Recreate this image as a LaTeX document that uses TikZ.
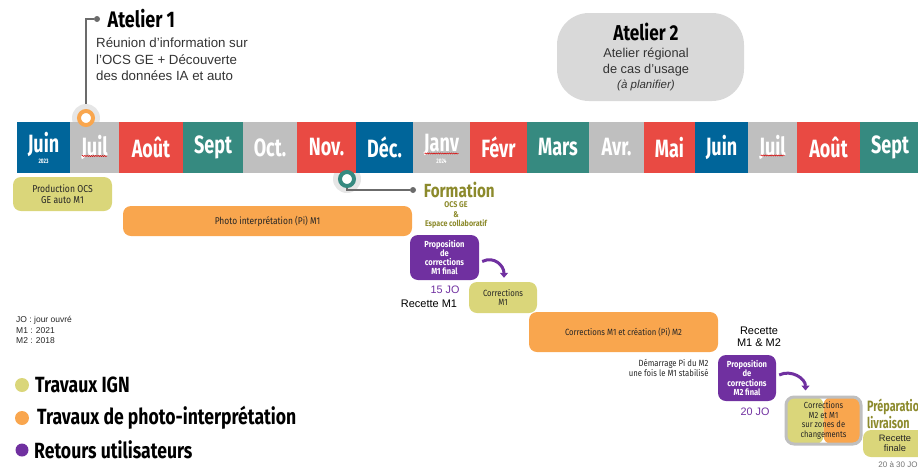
\documentclass[tikz,border=0pt]{standalone}
\usepackage{fontspec}
\setmainfont{Liberation Sans}
\newfontfamily\condfont[FakeStretch=0.72]{Fira Sans}
\newfontfamily\titlefont[FakeStretch=0.8]{Fira Sans}
\newfontfamily\narrowfont[FakeStretch=0.86]{Fira Sans}
\usetikzlibrary{positioning,arrows.meta,decorations.pathmorphing}
\definecolor{mblue}{HTML}{00659A}
\definecolor{mgray}{HTML}{BFBFBF}
\definecolor{mred}{HTML}{E94A43}
\definecolor{mteal}{HTML}{368A80}
\definecolor{ign}{HTML}{DAD67A}
\definecolor{pi}{HTML}{F9A64E}
\definecolor{retour}{HTML}{7030A0}
\definecolor{olive}{HTML}{8C8A2C}
\definecolor{halogray}{HTML}{E6E6E6}
\definecolor{guidegray}{HTML}{6B6B6B}
\definecolor{boxgray}{HTML}{D9D9D9}
\newcommand{\fsz}[2]{\fontsize{#1}{#2}\selectfont}
\newcommand{\upm}[1]{\raisebox{3pt}[\height][\depth]{#1}}
\begin{document}
\begin{tikzpicture}[x=1pt,y=-1pt,
  month/.style={rectangle, inner sep=0pt, minimum height=51pt, text=white, font=\condfont\bfseries\fsz{25}{25}},
  yeartag/.style={inner sep=0pt, text=white, font=\condfont\bfseries\fsz{6.5}{6.5}},
  spell/.style={draw=red!85!black, line width=0.5pt, decorate, decoration={snake, amplitude=0.6pt, segment length=2.2pt}},
  halo/.style={circle, fill=halogray, minimum size=28pt, inner sep=0pt},
  ring/.style={circle, draw=#1, fill=white, line width=4pt, minimum size=14pt, inner sep=0pt},
  guide/.style={draw=guidegray, line width=1.2pt},
  gdot/.style={circle, fill=guidegray, minimum size=6pt, inner sep=0pt},
  task/.style={rectangle, rounded corners=8pt, inner sep=0pt, align=center, text=black!85, font=\narrowfont\fsz{9}{9.5}},
  retourbox/.style={task, fill=retour, text=white, font=\narrowfont\bfseries\fsz{8.8}{9.3}},
  curvarrow/.style={draw=retour, line width=3pt, -{Triangle[length=5pt,width=8pt]}},
  legend/.style={anchor=west, inner sep=0pt, font=\titlefont\bfseries\fsz{22}{22}},
  ldot/.style={circle, inner sep=0pt, minimum size=14pt}
]
\useasboundingbox (0,0) rectangle (918,469);

% Drawing halos behind the band
\node[halo] (h1) at (86,118) {};
\node[halo] (h2) at (347,179) {};

% Drawing the months
\node[month, fill=mblue, minimum width=53pt] (m1) at (43.5,147.5) {\upm{Juin}};
\node[month, fill=mgray, minimum width=49pt] (m2) at (94.5,147.5) {Juil};
\node[month, fill=mred, minimum width=64pt] (m3) at (151,147.5) {Août};
\node[month, fill=mteal, minimum width=60pt] (m4) at (213,147.5) {Sept};
\node[month, fill=mgray, minimum width=54pt] (m5) at (270,147.5) {Oct.};
\node[month, fill=mred, minimum width=59pt] (m6) at (326.5,147.5) {Nov.};
\node[month, fill=mblue, minimum width=57pt] (m7) at (384.5,147.5) {Déc.};
\node[month, fill=mgray, minimum width=57pt] (m8) at (441.5,147.5) {\upm{Janv}};
\node[month, fill=mred, minimum width=57pt] (m9) at (498.5,147.5) {Févr};
\node[month, fill=mteal, minimum width=62pt] (m10) at (558,147.5) {Mars};
\node[month, fill=mgray, minimum width=55pt] (m11) at (616.5,147.5) {Avr.};
\node[month, fill=mred, minimum width=51pt] (m12) at (669.5,147.5) {Mai};
\node[month, fill=mblue, minimum width=53pt] (m13) at (721.5,147.5) {Juin};
\node[month, fill=mgray, minimum width=49pt] (m14) at (772.5,147.5) {Juil};
\node[month, fill=mred, minimum width=63pt] (m15) at (828.5,147.5) {Août};
\node[month, fill=mteal, minimum width=60pt] (m16) at (890,147.5) {Sept};

% Years and spelling marks
\node[yeartag] (y1) at ([shift={(0,14)}]m1.center) {2023};
\node[yeartag] (y8) at ([shift={(0,14)}]m8.center) {2024};
\draw[spell] ([shift={(-12.5,8.5)}]m2.center) -- ([shift={(12.5,8.5)}]m2.center);
\draw[spell] ([shift={(-17,6)}]m8.center) -- ([shift={(17,6)}]m8.center);
\draw[spell] ([shift={(-12,8)}]m14.center) -- ([shift={(12,8)}]m14.center);

% Atelier 1
\node[gdot] (d1) at (97,19) {};
\draw[guide] (h1.north) |- (d1);
\node[ring=pi] (k1) at (86,118) {};
\node[right=4pt of d1, font=\titlefont\bfseries\fsz{22.5}{22.5}] (at1) {Atelier 1};
\node[anchor=north west, align=left, inner sep=3pt, text=black!80, font=\fsz{13.3}{16.5}] (at1txt) at (93,35)
  {Réunion d’information sur\\l’OCS GE + Découverte\\des données IA et auto};

% Atelier 2
\node[rectangle, rounded corners=32pt, fill=boxgray, minimum width=187pt, minimum height=88pt] (at2) at (650.5,57) {};
\node[font=\titlefont\bfseries\fsz{21.5}{21.5}] (at2t) at (646,32) {Atelier 2};
\node[align=center, text=black!80, font=\fsz{12.8}{16}] (at2txt) at (646,62) {Atelier régional\\de cas d’usage};
\node[text=black!80, font=\itshape\fsz{11.5}{12}] (at2p) at (646,85) {(à planifier)};

% Formation
\node[gdot] (d2) at (413,190) {};
\draw[guide] (h2.center) |- (d2);
\node[ring=mteal] (k2) at (347,179) {};
\node[right=6.5pt of d2, inner sep=1pt, text=olive, font=\titlefont\bfseries\fsz{19}{19}] (fm) {Formation};
\node[align=center, inner sep=1pt, text=olive, font=\narrowfont\bfseries\fsz{8.3}{9.5}] (fmtxt) at (456,215) {OCS GE\\\&\\Espace collaboratif};

% Tasks M1
\node[task, fill=ign, minimum width=99pt, minimum height=34pt, font=\narrowfont\fsz{10}{11.5}] (t1) at (62.5,194) {Production OCS\\GE auto M1};
\node[task, fill=pi, minimum width=289pt, minimum height=30pt, font=\narrowfont\fsz{9.8}{11}] (t2) at (267.5,221) {Photo interprétation (Pi) M1};
\node[retourbox, minimum width=69pt, minimum height=45pt] (p1) at (444.5,257.5) {Proposition\\de\\corrections\\M1 final};
\node[task, fill=ign, minimum width=68pt, minimum height=31pt] (t3) at (503,297.5) {Corrections\\M1};
\draw[curvarrow] ([shift={(3,4)}]p1.east) .. controls +(12,-6) and +(0,-12) .. ([shift={(1,-4)}]t3.north);
\node[text=retour, font=\fsz{10.8}{12}] (jo1) at (445,290) {15 JO};
\node[font=\fsz{11}{12}] (rc1) at (429,304) {Recette M1};

% Tasks M2
\node[task, fill=pi, minimum width=189pt, minimum height=40pt] (t4) at (623.5,332) {Corrections M1 et création (Pi) M2};
\node[align=center, font=\fsz{11}{12.5}] (rc2) at (759,337) {Recette\\M1 \& M2};
\node[anchor=east, align=right, text=black!85, font=\narrowfont\fsz{9}{10}] (dm) at (712,368) {Démarrage Pi du M2\\une fois le M1 stabilisé};
\node[retourbox, minimum width=58pt, minimum height=46pt] (p2) at (747,378) {Proposition\\de\\corrections\\M2 final};
\node[text=retour, font=\fsz{10.8}{12}] (jo2) at (755,412) {20 JO};
\node[task, draw=mgray, line width=3pt, minimum width=75pt, minimum height=47pt,
  path picture={\fill[ign] (path picture bounding box.north west) rectangle (path picture bounding box.south);
                \fill[pi] (path picture bounding box.north) rectangle (path picture bounding box.south east);},
  font=\narrowfont\fsz{8.8}{9.4}] (t5) at (823.5,420.5) {Corrections\\M2 et M1\\sur zones de\\changements};
\draw[curvarrow] ([shift={(3,-3)}]p2.east) .. controls +(12,-6) and +(0,-12) .. ([shift={(-18,-5)}]t5.north);

% Livraison
\node[anchor=north west, align=left, inner sep=0pt, text=olive, font=\condfont\bfseries\fsz{15}{14}] (liv) at (867,399) {Préparation\\livraison};
\node[task, fill=ign, minimum width=64pt, minimum height=27pt, font=\fsz{9.3}{10}] (t6) at (895,443.5) {Recette\\finale};
\node[text=black!55, font=\fsz{8}{9}] (jo3) at (898,465) {20 à 30 JO};

% Notes
\node[anchor=north west, align=left, inner sep=0pt, text=black!85, font=\fsz{8.5}{10.7}] (note) at (16,316) {JO : jour ouvré\\M1 : 2021\\M2 : 2018};

% Legend
\node[ldot, fill=ign] (l1) at (22,385) {};
\node[ldot, fill=pi] (l2) at (22,418) {};
\node[ldot, fill=retour, minimum size=13pt] (l3) at (22,450) {};
\node[legend] (lt1) at (35,385) {Travaux IGN};
\node[legend] (lt2) at (37,418) {Travaux de photo-interprétation};
\node[legend] (lt3) at (34,450) {Retours utilisateurs};
\end{tikzpicture}
\end{document}
